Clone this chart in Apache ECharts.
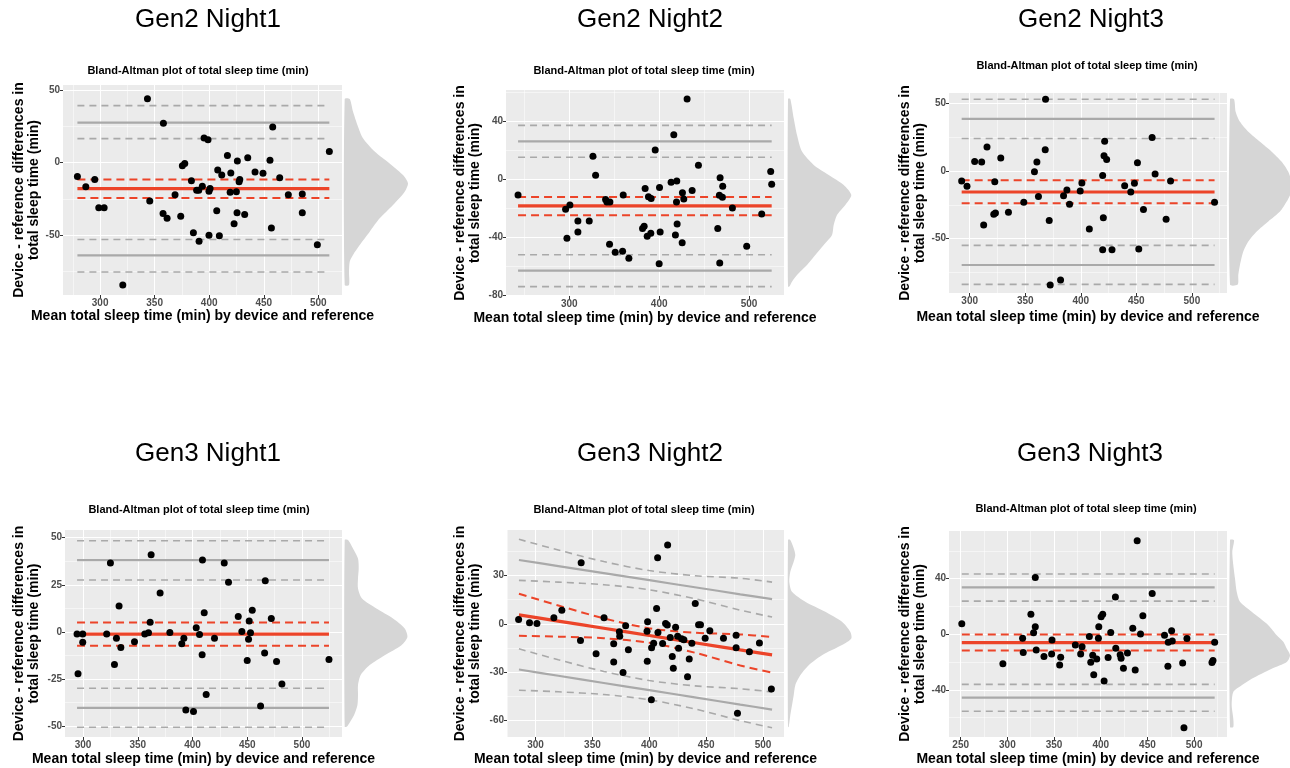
<!DOCTYPE html>
<html>
<head>
<meta charset="utf-8">
<script src="https://cdn.jsdelivr.net/npm/echarts@6/dist/echarts.min.js"></script>
<style>
html,body{margin:0;padding:0;background:#fff}
#main{width:1290px;height:768px}
</style>
</head>
<body>
<div id="main"></div>
<script>
// ---- data: [mean, difference] ----
var g2n1Pts = [[279.2,-9.6],[286.9,-16.5],[295.1,-11.5],[298.8,-31],[303.7,-31],[320.8,-84.2],[343.4,44],[345.5,-26.4],[358,27.1],[357.7,-34.9],[361.4,-38.3],[368.7,-22],[373.9,-36.9],[375.4,-2.1],[377.6,-0.5],[383.7,-12.4],[385.5,-48.2],[388.5,-19],[390.7,-54.1],[390.4,-19],[393.7,-16.3],[395.3,17],[398.9,15.8],[399.8,-19.7],[400.8,-17.7],[399.8,-50],[406.9,-33],[407.8,-5],[409.3,-50.2],[411.5,-8.5],[416.7,5],[419.8,-7.1],[419.2,-20.4],[422.8,-42],[424.9,-20],[425.8,1.1],[425.5,-34.4],[427.4,-13.1],[428,-11.5],[432.5,-35.6],[435.3,3.4],[442,-6.4],[449.3,-7.3],[455.7,1.6],[457,-45],[458.2,24.5],[464.6,-10.3],[472.5,-22],[485.3,-21.6],[485.3,-34.4],[499.1,-56.4],[510.1,7.6]];
var g2n2Pts = [[243,-10.8],[295.9,-20.7],[300.7,-17.7],[297.4,-40.7],[309.6,-28.7],[309.6,-36.3],[322.2,-28.7],[326.3,15.9],[329.3,2.8],[340.4,-14],[341.9,-15.6],[345.2,-15.6],[344.8,-44.8],[351.1,-50.3],[359.3,-49.7],[360,-10.8],[366.3,-54.5],[381.5,-34],[383.3,-32.4],[384.4,-6.4],[386.7,-39.3],[388.1,-12],[391.1,-13.3],[390.7,-37.2],[395.6,20.2],[400.4,-5.7],[401.1,-36.3],[400,-58.2],[413.3,-2.1],[416.3,30.8],[419.6,-1.1],[419.3,-15.6],[420,-30.8],[418.1,-38.4],[425.9,-9.2],[427.4,-13.6],[425.6,-43.7],[431.1,55.4],[436.7,-7.8],[443.7,9.7],[465.2,-34],[467.8,1.1],[467,-11],[470.4,-12.4],[470.7,-4.8],[467.4,-57.7],[481.5,-19.8],[497.4,-46.2],[514.1,-23.9],[524.1,5.3],[525.2,-3.4]];
var g2n3Pts = [[292.8,-7.4],[297.6,-11.3],[304.5,7.1],[310.8,6.6],[312.6,-40],[315.6,17.7],[321.7,-31.9],[323.2,-31],[322.6,-7.9],[328,9.6],[334.9,-30.5],[348.7,-23.1],[358.3,-0.5],[360.5,6.6],[368,15.7],[368.3,53.1],[361.9,-18.9],[371.6,-36.6],[372.5,-84.3],[381.8,-80.6],[384.5,-18.2],[387.5,-14],[389.9,-24.6],[399.5,-14.7],[401,-8.8],[407.7,-42.8],[419.7,-3.4],[420.9,11.3],[421.5,22.1],[420.3,-34.6],[423.3,8.6],[419.7,-58.2],[428.1,-58.2],[439.5,-10.8],[445,-15.5],[448.3,-9.1],[451,6.1],[452.2,-57.7],[456.4,-28.5],[464.2,24.8],[466.9,-2.2],[476.8,-35.6],[480.8,-7.4],[520.4,-23.1]];
var g3n1Pts = [[294.5,-1.2],[299.7,-1.2],[295.4,-22.3],[299.7,-5.5],[321.6,-1.2],[325,36.5],[328.7,-17.4],[330.5,-3.4],[332.9,13.7],[334.5,-8.3],[347,-5.3],[356.4,-1.2],[359.8,-0.5],[361.3,5.1],[362.2,41],[370.4,20.6],[379.3,-0.4],[390.2,-6.4],[392.1,-3.4],[393.9,-41.5],[400.9,-42.4],[403.4,2.1],[406.4,-1.4],[408.8,-12.2],[409.1,38.1],[410.7,10.1],[412.5,-33.3],[420.1,-3.4],[429,36.5],[432.9,26.4],[441.8,8.2],[445.1,0.2],[450,-15.2],[451.2,-3.9],[451.8,5.7],[453,-0.5],[454.6,11.5],[462.2,-39.4],[465.9,-11.3],[466.5,27.1],[472,7.1],[476.8,-15.8],[481.7,-27.8],[524.7,-14.7]];
var g3n2Pts = [[285.1,2.7],[294.7,0.6],[301.2,0.2],[316.1,3.75],[323.1,8.5],[340.1,38.1],[339.5,-10.4],[353.2,-18.75],[360.2,3.75],[368.7,-12.5],[368.7,-23.75],[373.7,-5],[374,-7.7],[376.9,-30.4],[379.2,-1.25],[381.6,-16.25],[398,-4.6],[398.5,1.25],[398.2,-23.3],[402,-15],[401.8,-47.3],[403.8,-12.1],[407.3,41.25],[406.4,9.6],[407.6,-5.4],[411.7,-12.3],[414.3,0.2],[415.8,-0.8],[416.1,49.2],[418.4,-8.5],[420.2,-20.4],[421.1,-27.7],[423.1,-2.1],[424.9,-7.7],[425.7,-15.2],[428.4,-9.4],[430.4,-10],[433.6,-33.1],[435.1,-21.9],[437.4,-12.1],[440.4,12.7],[443.3,-0.6],[445,-0.6],[449.1,-9],[453.2,-4.4],[465.2,-9],[476.3,-7.1],[476.3,-15],[477.5,-55.8],[488,-17.5],[496.8,-11.9],[507.3,-40.6]];
var g3n3Pts = [[251.2,7.5],[295.2,-21.2],[316.3,-2.9],[317,-13.2],[325.2,14.4],[328.1,1],[329.9,5.3],[329.9,40.9],[330.9,-11.3],[339.2,-16.1],[347.8,-4.1],[347.4,-14.2],[356,-22.1],[357.1,-16.6],[372.8,-7.7],[378.5,-14.2],[380,-9.1],[387.8,-1.7],[389.3,-20.2],[391.4,-15.1],[392.5,-29.1],[395.7,-17.8],[397.5,-2.9],[397.9,5.3],[400.4,12.5],[402.1,14.4],[403.6,-33.7],[407.9,-16.8],[410.7,1.2],[415.7,26.7],[416.1,-10.1],[420.8,-14.7],[421.8,-17.3],[424.3,-24.5],[428.6,-13.5],[434.3,4.3],[436.9,-25.7],[439,67.3],[442.6,0.2],[445.1,13.2],[455.1,29.3],[468.3,-0.7],[472.3,-5.8],[471.9,-23.1],[475.9,2.4],[476.6,-4.8],[487.7,-20.7],[489.1,-67.3],[492.3,-3.1],[519.1,-20.4],[520.2,-19],[522,-5.8]];

// reference lines: upper LoA (CI hi, LoA, CI lo), bias (CI hi, bias, CI lo), lower LoA (CI hi, LoA, CI lo)
var g2n1Lines = [39.2, 27.5, 16.5, -11.5, -17.9, -24.3, -52.8, -63.8, -75.2];
var g2n2Lines = [37.2, 26.2, 15.2, -12.2, -18.4, -24.8, -52, -63, -74];
var g2n3Lines = [53.1, 38.6, 24.1, -6.9, -15.5, -23.8, -55, -69.5, -83.8];
var g3n1Lines = [48.4, 38.1, 27.5, 5, -1.2, -7.4, -30, -40.4, -50.7];
var g3n3Lines = [43.3, 33.7, 23.8, -0.2, -6, -11.8, -36.1, -45.7, -55.5];

// Gen3 Night2 uses regression-based (sloped) lines
var g3n2LineX  = [285.4, 320, 360, 400, 440, 480, 507.9];
var g3n2LoaUpHi = [52.7, 46, 38.8, 33.2, 30, 28.4, 26];
var g3n2LoaUp   = [39.8, 36, 31.6, 27.2, 22.8, 18.4, 15.4];
var g3n2LoaUpLo = [27.1, 26, 24.4, 21.2, 15.6, 8.5, 4.2];
var g3n2BiasHi  = [18.75, 11.4, 3.4, -2.8, -5.6, -6.6, -8.3];
var g3n2Bias    = [5.6, 1.7, -2.8, -7.3, -11.8, -16.3, -19.4];
var g3n2BiasLo  = [-7.5, -8, -9, -11.8, -18, -26, -30.4];
var g3n2LoaLoHi = [-15.6, -22.4, -29.7, -35.4, -38.7, -40.5, -42.5];
var g3n2LoaLo   = [-28.5, -32.4, -36.9, -41.4, -45.9, -50.4, -53.5];
var g3n2LoaLoLo = [-41.4, -42.4, -44.1, -47.4, -53.1, -60.4, -64.8];

// marginal densities: [difference, density width]
var g2n1Dens = [[43.8,5],[35.1,8.3],[25.9,12.7],[16.7,18.3],[7.6,30],[-1.6,46.7],[-8.5,58.3],[-14.2,63.3],[-20,60],[-29.1,48.3],[-38.3,35],[-47.5,25],[-56.7,15],[-63.5,8.3],[-68.1,5],[-75,4.3],[-84.2,4.3]];
var g2n2Dens = [[55.4,2.3],[42.1,5.7],[30.6,9],[19.1,14],[9.9,25.7],[3,40.7],[-3.9,55.7],[-10.8,63.3],[-17.7,57.3],[-24.6,49],[-31.5,45.7],[-38.4,44],[-45.3,35.7],[-52.2,27.3],[-59.1,19],[-66,9],[-70.6,4],[-74,1.3]];
var g2n3Dens = [[53.1,4],[43.7,5.7],[36.4,10],[29,18.3],[21.6,30],[14.3,41.7],[6.9,51.7],[-0.5,58.3],[-7.9,61.5],[-11.5,62],[-15.2,61.5],[-22.6,56.7],[-30,50],[-37.3,38.3],[-44.7,26.7],[-52.1,18.3],[-59.5,13.3],[-69.3,10],[-76.7,8.3],[-84,7.7]];
var g3n1Dens = [[48.8,3.3],[44.3,8.3],[39,13.3],[33.7,14],[28.4,13.3],[23,13.3],[17.7,17.3],[12.4,31.7],[7.1,48.3],[1.8,60],[-2.7,62.7],[-7.1,56.7],[-12.4,40],[-17.7,25],[-23,16],[-28.4,13.3],[-33.7,13.3],[-39,12.7],[-44.3,9.3],[-49.6,3.3],[-50.5,1.7]];
var g3n2Dens = [[52.3,2.3],[47.1,5.7],[42.9,7.3],[38.75,5.7],[32.5,2.3],[26.25,1.3],[20,4],[13.75,17.3],[7.5,37.3],[1.25,54],[-5,62.3],[-9.2,63.3],[-13.3,54],[-19.6,34],[-25.8,20.7],[-32.1,12.3],[-38.3,7.3],[-44.6,5.7],[-50.8,4],[-57.1,2.3],[-64.4,0.7]];
var g3n3Dens = [[67.8,4],[59.4,2.3],[49.8,3.3],[40.1,5],[30.5,6.7],[23.3,10],[16.1,21.7],[6.5,38.3],[-0.7,46.7],[-5.5,53.3],[-10.3,56.7],[-15.1,60],[-20,56.7],[-24.8,41.7],[-32,21.7],[-36.8,11.7],[-41.6,3.3],[-51.2,1.7],[-60.8,3.3],[-66.8,3.3]];

// axis limits and breaks
var g2n1XLim = [266, 521.7],   g2n1YLim = [-91, 53.4];
var g2n2XLim = [229.6, 538.9], g2n2YLim = [-80.5, 61.6];
var g2n3XLim = [281.4, 531.6], g2n3YLim = [-90.2, 57.7];
var g3n1XLim = [283.5, 536.6], g3n1YLim = [-55.9, 54.1];
var g3n2XLim = [274.9, 518.4], g3n2YLim = [-70.6, 58.5];
var g3n3XLim = [237.5, 535.2], g3n3YLim = [-74, 74.3];
var xBreaks50 = [250, 300, 350, 400, 450, 500], xMinor50 = [225, 275, 325, 375, 425, 475, 525];
var xBreaks100 = [200, 300, 400, 500], xMinor100 = [250, 350, 450];
var yBreaks50 = [-50, 0, 50], yMinor50 = [-75, -25, 25, 75];
var yBreaks40 = [-80, -40, 0, 40], yMinor40 = [-60, -20, 20, 60];
var yBreaks25 = [-50, -25, 0, 25, 50], yMinor25 = [-37.5, -12.5, 12.5, 37.5];
var yBreaks30 = [-60, -30, 0, 30], yMinor30 = [-45, -15, 15, 45];

var titles = ['Gen2 Night1', 'Gen2 Night2', 'Gen2 Night3', 'Gen3 Night1', 'Gen3 Night2', 'Gen3 Night3'];

var panels = [
  {pts: g2n1Pts, lines: g2n1Lines, dens: g2n1Dens, xl: g2n1XLim, yl: g2n1YLim, xb: xBreaks50, xm: xMinor50, yb: yBreaks50, ym: yMinor50},
  {pts: g2n2Pts, lines: g2n2Lines, dens: g2n2Dens, xl: g2n2XLim, yl: g2n2YLim, xb: xBreaks100, xm: xMinor100, yb: yBreaks40, ym: yMinor40},
  {pts: g2n3Pts, lines: g2n3Lines, dens: g2n3Dens, xl: g2n3XLim, yl: g2n3YLim, xb: xBreaks50, xm: xMinor50, yb: yBreaks50, ym: yMinor50},
  {pts: g3n1Pts, lines: g3n1Lines, dens: g3n1Dens, xl: g3n1XLim, yl: g3n1YLim, xb: xBreaks50, xm: xMinor50, yb: yBreaks25, ym: yMinor25},
  {pts: g3n2Pts, lineX: g3n2LineX,
   lineY: [g3n2LoaUpHi, g3n2LoaUp, g3n2LoaUpLo, g3n2BiasHi, g3n2Bias, g3n2BiasLo, g3n2LoaLoHi, g3n2LoaLo, g3n2LoaLoLo],
   dens: g3n2Dens, xl: g3n2XLim, yl: g3n2YLim, xb: xBreaks50, xm: xMinor50, yb: yBreaks30, ym: yMinor30},
  {pts: g3n3Pts, lines: g3n3Lines, dens: g3n3Dens, xl: g3n3XLim, yl: g3n3YLim, xb: xBreaks50, xm: xMinor50, yb: yBreaks40, ym: yMinor40}
];

// placement of each panel on the page
var layout = [
  {grid: [63, 85, 279, 210],  densLeft: 344.7, title: [208, 20],  sub: [198, 71],  gapY: 21.5, gapX: 13},
  {grid: [506, 90, 278, 206], densLeft: 788,   title: [650, 20],  sub: [644, 71],  gapY: 23.5, gapX: 15},
  {grid: [949, 93, 278, 200], densLeft: 1230,  title: [1091, 20], sub: [1087, 66], gapY: 21.5, gapX: 17},
  {grid: [65, 530, 277, 207], densLeft: 344.7, title: [208, 454], sub: [199, 510], gapY: 23.5, gapX: 15},
  {grid: [507, 530, 277, 207], densLeft: 788,  title: [650, 454], sub: [644, 510], gapY: 24.5, gapX: 15},
  {grid: [949, 531, 278, 206], densLeft: 1230, title: [1090, 454], sub: [1086, 509], gapY: 21.5, gapX: 15}
];

var FONT = '"Liberation Sans", Arial, Helvetica, sans-serif';
var RED = '#ec4429';
var GREY = '#a9a9a9';
var solidG = {color: GREY, width: 2.2, type: 'solid'};
var dashG = {color: GREY, width: 1.6, type: [7, 5]};
var solidR = {color: RED, width: 3.2, type: 'solid'};
var dashR = {color: RED, width: 2, type: [8, 5]};
var lineStyles = [dashG, solidG, dashG, dashR, solidR, dashR, dashG, solidG, dashG];

var grids = [], xAxes = [], yAxes = [], series = [], graphics = [];

panels.forEach(function (p, i) {
  var L = layout[i];
  var g = L.grid;
  var gi = grids.length;
  grids.push({left: g[0], top: g[1], width: g[2], height: g[3], show: true, backgroundColor: '#ebebeb', borderWidth: 0, containLabel: false, outerBoundsMode: 'none'});
  grids.push({left: L.densLeft, top: g[1], width: 70, height: g[3], show: false, containLabel: false, outerBoundsMode: 'none'});

  var xi = xAxes.length, yi = yAxes.length;
  // main axes
  xAxes.push({
    gridIndex: gi, type: 'value', min: p.xl[0], max: p.xl[1], position: 'bottom',
    axisLine: {show: false, onZero: false},
    axisTick: {show: true, length: 3, customValues: p.xb, lineStyle: {color: '#333', width: 1}},
    axisLabel: {customValues: p.xb, color: '#4d4d4d', fontSize: 10, fontWeight: 'bold', margin: 3, fontFamily: FONT},
    splitLine: {show: true, lineStyle: {color: '#ffffff', width: 1.1}},
    name: 'Mean total sleep time (min) by device and reference',
    nameLocation: 'middle', nameGap: L.gapX,
    nameTextStyle: {fontSize: 14, fontWeight: 'bold', color: '#000', fontFamily: FONT}
  });
  // minor grid lines
  xAxes.push({
    gridIndex: gi, type: 'value', min: p.xl[0], max: p.xl[1], position: 'top',
    axisLine: {show: false, onZero: false}, axisTick: {show: false, customValues: p.xm}, axisLabel: {show: false, customValues: p.xm},
    splitLine: {show: true, lineStyle: {color: '#ffffff', width: 0.5}}
  });
  // density x axis
  xAxes.push({gridIndex: gi + 1, type: 'value', min: 0, max: 70, show: false, axisLine: {onZero: false}, splitLine: {show: false}});

  yAxes.push({
    gridIndex: gi, type: 'value', min: p.yl[0], max: p.yl[1], position: 'left',
    axisLine: {show: false, onZero: false},
    axisTick: {show: true, length: 3, customValues: p.yb, lineStyle: {color: '#333', width: 1}},
    axisLabel: {customValues: p.yb, color: '#4d4d4d', fontSize: 10, fontWeight: 'bold', margin: 3, fontFamily: FONT},
    splitLine: {show: true, lineStyle: {color: '#ffffff', width: 1.1}},
    name: 'Device - reference differences in\ntotal sleep time (min)',
    nameLocation: 'middle', nameGap: L.gapY,
    nameTextStyle: {fontSize: 14, fontWeight: 'bold', color: '#000', lineHeight: 15, fontFamily: FONT}
  });
  yAxes.push({
    gridIndex: gi, type: 'value', min: p.yl[0], max: p.yl[1], position: 'right',
    axisLine: {show: false, onZero: false}, axisTick: {show: false, customValues: p.ym}, axisLabel: {show: false, customValues: p.ym},
    splitLine: {show: true, lineStyle: {color: '#ffffff', width: 0.5}}
  });
  yAxes.push({gridIndex: gi + 1, type: 'value', min: p.yl[0], max: p.yl[1], show: false, axisLine: {onZero: false}, splitLine: {show: false}});

  // reference lines
  var xs = p.pts.map(function (d) { return d[0]; });
  var x0 = Math.min.apply(null, xs), x1 = Math.max.apply(null, xs);
  for (var k = 0; k < 9; k++) {
    var data;
    if (p.lines) {
      data = [[x0, p.lines[k]], [x1, p.lines[k]]];
    } else {
      data = p.lineX.map(function (x, j) { return [x, p.lineY[k][j]]; });
    }
    series.push({
      type: 'line', xAxisIndex: xi, yAxisIndex: yi, data: data,
      symbol: 'none', silent: true, smooth: p.lines ? false : 0.3,
      lineStyle: lineStyles[k], z: (k >= 3 && k <= 5) ? 3 : 2, animation: false
    });
  }
  // points
  series.push({
    type: 'scatter', xAxisIndex: xi, yAxisIndex: yi, data: p.pts,
    symbolSize: 7, itemStyle: {color: '#000', opacity: 1}, silent: true, z: 5, animation: false
  });
  // marginal density
  (function (dens) {
    series.push({
      type: 'custom', xAxisIndex: xi + 2, yAxisIndex: yi + 2, data: [0], silent: true, animation: false,
      renderItem: function (params, api) {
        var pts = [api.coord([0, dens[0][0]])];
        dens.forEach(function (d) { pts.push(api.coord([d[1], d[0]])); });
        pts.push(api.coord([0, dens[dens.length - 1][0]]));
        return {type: 'polygon', shape: {points: pts, smooth: 0.25}, style: {fill: '#d6d6d6', stroke: null}};
      }
    });
  })(p.dens);

  graphics.push({
    type: 'text', x: L.title[0], y: L.title[1], silent: true,
    style: {text: titles[i], fill: '#000', font: '26px ' + FONT, align: 'center', verticalAlign: 'middle'}
  });
  graphics.push({
    type: 'text', x: L.sub[0], y: L.sub[1], silent: true,
    style: {text: 'Bland-Altman plot of total sleep time (min)', fill: '#000', font: 'bold 11px ' + FONT, align: 'center', verticalAlign: 'middle'}
  });
});

var myChart = echarts.init(document.getElementById('main'), null, {renderer: 'canvas'});
option = {
  backgroundColor: '#ffffff',
  animation: false,
  textStyle: {fontFamily: FONT},
  grid: grids,
  xAxis: xAxes,
  yAxis: yAxes,
  series: series,
  graphic: graphics
};
myChart.setOption(option);
</script>
</body>
</html>
